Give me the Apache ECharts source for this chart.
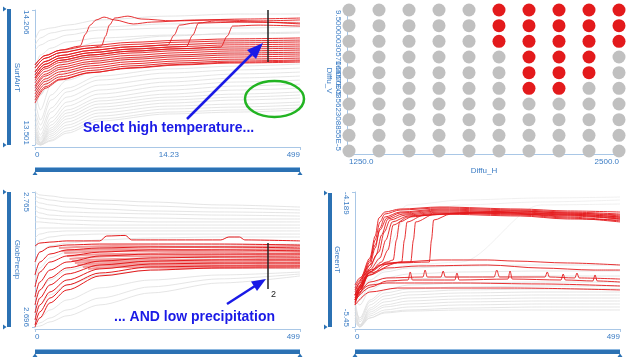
<!DOCTYPE html>
<html>
<head>
<meta charset="utf-8">
<script src="https://cdn.jsdelivr.net/npm/echarts@6/dist/echarts.min.js"></script>
<style>
  html, body { margin: 0; padding: 0; background: #fff; }
  #main { width: 626px; height: 359px; }
</style>
</head>
<body>
<div id="main"></div>
<script>
// ---- SurfAirT (top left) ----
const surfRange = [13.501, 14.206];
const surfTickValues = [0, 252, 499];
const surfTickLabels = ['0', '14.23', '499'];
const surfGrayX = [0, 10, 30, 60, 120, 250, 380, 499];
const surfGray = [
  [14.049, 14.101, 14.112, 14.127, 14.154, 14.174, 14.185, 14.185],
  [14.023, 14.060, 14.086, 14.101, 14.117, 14.133, 14.143, 14.143],
  [13.997, 14.023, 14.049, 14.075, 14.101, 14.112, 14.112, 14.117],
  [13.893, 13.971, 14.007, 14.039, 14.060, 14.075, 14.080, 14.086],
  [13.945, 13.893, 13.955, 13.997, 14.039, 14.070, 14.086, 14.091],
  [13.840, 13.762, 13.866, 13.934, 13.986, 14.023, 14.039, 14.044],
  [13.736, 13.814, 13.893, 13.945, 13.971, 13.997, 14.007, 14.013],
  [13.788, 13.684, 13.814, 13.882, 13.934, 13.966, 13.986, 13.997],
  [13.684, 13.762, 13.840, 13.903, 13.945, 13.966, 13.976, 13.981],
  [13.736, 13.631, 13.762, 13.840, 13.893, 13.924, 13.945, 13.955],
  [13.684, 13.605, 13.736, 13.798, 13.861, 13.898, 13.913, 13.924],
  [13.657, 13.579, 13.694, 13.778, 13.840, 13.877, 13.893, 13.903],
  [13.631, 13.553, 13.673, 13.751, 13.814, 13.851, 13.872, 13.882],
  [13.605, 13.537, 13.642, 13.725, 13.788, 13.830, 13.851, 13.861],
  [13.590, 13.527, 13.621, 13.704, 13.767, 13.809, 13.830, 13.840],
  [13.579, 13.516, 13.605, 13.684, 13.746, 13.788, 13.809, 13.819],
  [13.569, 13.511, 13.590, 13.668, 13.731, 13.767, 13.788, 13.798],
  [13.558, 13.511, 13.579, 13.652, 13.715, 13.751, 13.767, 13.778],
  [13.548, 13.506, 13.569, 13.637, 13.699, 13.736, 13.751, 13.762],
  [13.537, 13.506, 13.558, 13.621, 13.684, 13.720, 13.736, 13.746],
  [13.527, 13.501, 13.548, 13.605, 13.668, 13.704, 13.715, 13.725],
  [13.522, 13.501, 13.537, 13.590, 13.652, 13.689, 13.699, 13.710],
  [13.516, 13.501, 13.527, 13.574, 13.637, 13.673, 13.684, 13.694],
  [13.511, 13.501, 13.522, 13.563, 13.626, 13.663, 13.673, 13.684]
];
const surfRedX = [0, 19, 47, 104, 179, 273, 367, 499];
const surfRed = [
  [13.919, 13.968, 13.996, 14.020, 14.037, 14.048, 14.055, 14.060],
  [13.903, 13.954, 13.983, 14.008, 14.026, 14.038, 14.045, 14.049],
  [13.882, 13.937, 13.968, 13.995, 14.014, 14.026, 14.034, 14.039],
  [13.866, 13.923, 13.955, 13.983, 14.002, 14.015, 14.024, 14.028],
  [13.851, 13.909, 13.943, 13.971, 13.991, 14.004, 14.013, 14.018],
  [13.840, 13.899, 13.932, 13.960, 13.981, 13.994, 14.002, 14.007],
  [13.825, 13.885, 13.919, 13.949, 13.969, 13.983, 13.992, 13.997],
  [13.809, 13.871, 13.907, 13.937, 13.958, 13.972, 13.981, 13.986],
  [13.798, 13.861, 13.896, 13.926, 13.948, 13.962, 13.971, 13.976],
  [13.783, 13.846, 13.883, 13.914, 13.936, 13.951, 13.960, 13.966],
  [13.767, 13.833, 13.870, 13.902, 13.925, 13.940, 13.949, 13.955],
  [13.751, 13.819, 13.857, 13.890, 13.914, 13.930, 13.939, 13.945],
  [13.736, 13.805, 13.845, 13.879, 13.902, 13.919, 13.929, 13.934],
  [13.720, 13.797, 13.841, 13.878, 13.904, 13.922, 13.933, 13.940]
];
// red runs that jump up to the warm group: [x, value] pairs
const surfRedJump = [
  [[0, 13.919], [19, 13.968], [47, 13.996], [85, 14.018], [95, 14.080], [104, 14.127], [115, 14.154], [130, 14.169], [150, 14.154], [185, 14.133], [220, 14.143], [300, 14.154], [400, 14.159], [499, 14.164]],
  [[0, 13.903], [19, 13.954], [47, 13.983], [104, 14.008], [125, 14.018], [133, 14.070], [140, 14.127], [150, 14.164], [175, 14.174], [200, 14.159], [260, 14.149], [350, 14.154], [420, 14.149], [499, 14.154]],
  [[0, 13.882], [19, 13.937], [47, 13.968], [104, 13.995], [179, 14.014], [250, 14.023], [262, 14.075], [272, 14.127], [300, 14.138], [400, 14.143], [499, 14.138]],
  [[0, 13.866], [19, 13.923], [47, 13.955], [104, 13.983], [179, 14.002], [285, 14.015], [297, 14.075], [308, 14.138], [340, 14.149], [420, 14.143], [499, 14.133]],
  [[0, 13.851], [19, 13.909], [47, 13.943], [104, 13.971], [179, 13.991], [273, 14.004], [350, 14.013], [362, 14.070], [372, 14.122], [420, 14.127], [499, 14.122]]
];

// ---- Diffu_H x Diffu_V (top right) ----
const diffuH = [1250, 1388.9, 1527.8, 1666.7, 1805.6, 1944.4, 2083.3, 2222.2, 2361.1, 2500];
const diffuV = [1.0e-5, 1.944e-5, 2.889e-5, 3.833e-5, 4.778e-5, 5.722e-5, 6.667e-5, 7.611e-5, 8.556e-5, 9.5e-5];
const diffuHLabels = ['1250.0', '2500.0'];
const diffuVLabels = ['1.0000003562308855E-5', '9.500000305706657E-5'];
// selected columns per row, from the top row down
const hotCols = [[5, 9], [5, 9], [5, 9], [6, 8], [6, 8], [6, 7]];

// ---- GlobPrecip (bottom left) ----
const globRange = [2.696, 2.765];
const globTickLabels = ['0', '499'];
const globX = [0, 9, 28, 60, 122, 217, 348, 499];
const globGray = [
  [2.7650, 2.7635, 2.7630, 2.7619, 2.7609, 2.7599, 2.7584, 2.7573],
  [2.7630, 2.7619, 2.7609, 2.7599, 2.7589, 2.7578, 2.7568, 2.7558],
  [2.7609, 2.7594, 2.7584, 2.7573, 2.7563, 2.7553, 2.7548, 2.7543],
  [2.7584, 2.7568, 2.7558, 2.7548, 2.7543, 2.7538, 2.7532, 2.7527],
  [2.7558, 2.7543, 2.7532, 2.7527, 2.7522, 2.7517, 2.7512, 2.7512],
  [2.7532, 2.7517, 2.7512, 2.7507, 2.7502, 2.7497, 2.7497, 2.7497],
  [2.7497, 2.7497, 2.7492, 2.7486, 2.7481, 2.7481, 2.7481, 2.7481],
  [2.7456, 2.7466, 2.7466, 2.7466, 2.7466, 2.7466, 2.7466, 2.7466],
  [2.7415, 2.7435, 2.7446, 2.7451, 2.7451, 2.7451, 2.7451, 2.7451],
  [2.7354, 2.7405, 2.7420, 2.7430, 2.7435, 2.7435, 2.7435, 2.7435],
  [2.7277, 2.7343, 2.7374, 2.7389, 2.7405, 2.7415, 2.7420, 2.7420],
  [2.7200, 2.7262, 2.7313, 2.7343, 2.7364, 2.7374, 2.7379, 2.7384],
  [2.7098, 2.7149, 2.7200, 2.7251, 2.7287, 2.7303, 2.7313, 2.7313],
  [2.7022, 2.7073, 2.7124, 2.7175, 2.7226, 2.7251, 2.7262, 2.7262],
  [2.6986, 2.7006, 2.7047, 2.7098, 2.7160, 2.7200, 2.7226, 2.7241],
  [2.6965, 2.6981, 2.7006, 2.7047, 2.7108, 2.7165, 2.7206, 2.7231],
  [2.6960, 2.6965, 2.6986, 2.7017, 2.7073, 2.7134, 2.7185, 2.7221]
];
const globRed = [
  [2.7292, 2.7343, 2.7369, 2.7379, 2.7384, 2.7384, 2.7384, 2.7379],
  [2.7226, 2.7292, 2.7333, 2.7354, 2.7364, 2.7369, 2.7369, 2.7364],
  [2.7165, 2.7241, 2.7292, 2.7323, 2.7343, 2.7354, 2.7354, 2.7349],
  [2.7113, 2.7190, 2.7251, 2.7292, 2.7323, 2.7333, 2.7333, 2.7333],
  [2.7073, 2.7149, 2.7211, 2.7262, 2.7297, 2.7313, 2.7318, 2.7318],
  [2.7032, 2.7108, 2.7175, 2.7231, 2.7277, 2.7297, 2.7303, 2.7303],
  [2.6996, 2.7073, 2.7139, 2.7200, 2.7257, 2.7282, 2.7287, 2.7287],
  [2.6970, 2.7037, 2.7108, 2.7175, 2.7236, 2.7267, 2.7272, 2.7272],
  [2.6960, 2.7006, 2.7083, 2.7149, 2.7221, 2.7251, 2.7262, 2.7262]
];
const globRedTop = [[0, 2.7374], [9, 2.7389], [28, 2.7394], [60, 2.7400], [122, 2.7400], [135, 2.7425], [170, 2.7428], [182, 2.7405], [217, 2.7405], [350, 2.7405], [365, 2.7420], [385, 2.7420], [395, 2.7405], [499, 2.7400]];
const globPink = [
  [[45, 2.7364], [150, 2.7374], [300, 2.7369], [499, 2.7374]],
  [[50, 2.7349], [150, 2.7359], [300, 2.7354], [499, 2.7359]],
  [[55, 2.7338], [150, 2.7349], [300, 2.7343], [499, 2.7349]],
  [[60, 2.7323], [150, 2.7333], [300, 2.7328], [499, 2.7338]],
  [[65, 2.7308], [150, 2.7323], [300, 2.7318], [499, 2.7328]],
  [[70, 2.7297], [150, 2.7308], [300, 2.7303], [499, 2.7313]],
  [[75, 2.7287], [150, 2.7297], [300, 2.7292], [499, 2.7303]],
  [[80, 2.7277], [150, 2.7287], [300, 2.7282], [499, 2.7292]],
  [[90, 2.7267], [150, 2.7277], [300, 2.7272], [499, 2.7282]],
  [[100, 2.7257], [150, 2.7267], [300, 2.7262], [499, 2.7272]]
];

// ---- GreenT (bottom right) ----
const greenRange = [-5.45, -4.189];
const greenX = [0, 9, 28, 56, 100, 200, 350, 499];
const greenGray = [
  [-5.291, -5.366, -5.198, -5.104, -5.058, -5.039, -5.030, -5.030],
  [-5.244, -5.385, -5.216, -5.132, -5.095, -5.076, -5.067, -5.067],
  [-5.198, -5.403, -5.244, -5.160, -5.123, -5.104, -5.095, -5.095],
  [-5.273, -5.431, -5.273, -5.188, -5.151, -5.132, -5.123, -5.123],
  [-5.310, -5.441, -5.291, -5.216, -5.179, -5.160, -5.151, -5.151],
  [-5.338, -5.450, -5.310, -5.244, -5.207, -5.188, -5.179, -5.179],
  [-5.366, -5.450, -5.329, -5.263, -5.235, -5.216, -5.207, -5.207],
  [-5.385, -5.450, -5.347, -5.291, -5.263, -5.244, -5.235, -5.235],
  [-5.403, -5.450, -5.366, -5.310, -5.291, -5.273, -5.263, -5.263],
  [-5.338, -5.431, -5.366, -5.319, -5.301, -5.291, -5.291, -5.291],
  [-5.198, -5.244, -5.104, -5.039, -5.002, -4.983, -4.974, -4.974],
  [-5.151, -5.198, -5.058, -4.992, -4.955, -4.936, -4.927, -4.927],
  [-5.104, -5.151, -5.011, -4.936, -4.899, -4.880, -4.871, -4.871]
];
// faint runs that drift up towards the warm plateau
const greenGrayHigh = [
  [-5.198, -5.151, -4.918, -4.544, -4.310, -4.264, -4.245, -4.236],
  [-5.244, -5.179, -4.964, -4.731, -4.404, -4.310, -4.282, -4.264],
  [-5.151, -5.104, -5.011, -4.918, -4.871, -4.843, -4.310, -4.301]
];
const greenRed = [
  [[0, -5.151], [9, -5.058], [28, -4.843], [38, -4.637], [47, -4.469], [56, -4.395], [85, -4.357], [160, -4.338], [311, -4.357], [400, -4.376], [499, -4.395]],
  [[0, -5.198], [9, -5.086], [28, -4.871], [38, -4.712], [47, -4.525], [56, -4.423], [85, -4.376], [160, -4.348], [311, -4.366], [400, -4.385], [499, -4.413]],
  [[0, -5.123], [9, -5.039], [28, -4.824], [38, -4.684], [47, -4.544], [60, -4.432], [85, -4.385], [160, -4.357], [311, -4.376], [400, -4.395], [499, -4.423]],
  [[0, -5.244], [9, -5.104], [28, -4.899], [40, -4.777], [50, -4.591], [62, -4.441], [90, -4.395], [160, -4.366], [311, -4.385], [400, -4.404], [499, -4.441]],
  [[0, -5.058], [9, -4.992], [28, -4.871], [45, -4.749], [55, -4.563], [66, -4.451], [95, -4.404], [160, -4.376], [311, -4.395], [400, -4.423], [499, -4.460]],
  [[0, -5.179], [9, -5.104], [28, -4.918], [47, -4.806], [58, -4.637], [70, -4.469], [100, -4.413], [160, -4.385], [311, -4.404], [400, -4.432], [499, -4.469]],
  [[0, -5.226], [9, -5.123], [28, -4.936], [50, -4.843], [62, -4.731], [72, -4.497], [100, -4.423], [160, -4.395], [311, -4.413], [400, -4.441], [499, -4.451]],
  [[0, -5.151], [9, -5.076], [28, -4.936], [60, -4.843], [72, -4.824], [78, -4.637], [84, -4.469], [110, -4.413], [200, -4.385], [400, -4.404], [499, -4.432]],
  [[0, -5.198], [28, -4.964], [60, -4.862], [88, -4.843], [93, -4.637], [98, -4.469], [130, -4.404], [250, -4.376], [400, -4.413], [499, -4.441]],
  [[0, -5.104], [28, -4.918], [60, -4.852], [105, -4.843], [110, -4.637], [114, -4.469], [150, -4.395], [250, -4.376], [400, -4.395], [499, -4.423]],
  [[0, -5.160], [28, -4.946], [80, -4.852], [140, -4.843], [144, -4.637], [148, -4.451], [180, -4.395], [300, -4.366], [400, -4.385], [499, -4.404]],
  [[0, -5.086], [9, -5.011], [28, -4.806], [38, -4.600], [45, -4.432], [56, -4.376], [85, -4.348], [160, -4.329], [311, -4.348], [400, -4.366], [499, -4.376]],
  [[0, -5.198], [9, -5.104], [28, -4.936], [47, -4.871], [85, -4.843], [160, -4.824], [250, -4.824], [300, -4.834], [400, -4.852], [499, -4.871]],
  [[0, -5.151], [28, -4.964], [60, -4.899], [120, -4.880], [250, -4.871], [350, -4.899], [450, -4.918], [499, -4.918]],
  [[0, -5.216], [28, -5.030], [60, -4.992], [128, -4.983], [132, -4.918], [136, -4.983], [162, -4.983], [166, -4.927], [170, -4.983], [262, -4.983], [267, -4.918], [272, -4.983], [358, -4.983], [362, -4.936], [366, -4.983], [414, -4.992], [418, -4.946], [422, -4.992], [499, -5.002]],
  [[0, -5.179], [28, -5.058], [60, -5.039], [200, -5.039], [350, -5.048], [499, -5.067]],
  [[0, -5.244], [28, -5.123], [80, -5.086], [300, -5.086], [499, -5.104]],
  [[0, -5.198], [30, -5.076], [60, -5.020], [100, -5.011], [104, -4.936], [108, -5.011], [188, -5.011], [192, -4.946], [196, -5.011], [288, -5.002], [292, -4.927], [296, -5.002], [388, -5.011], [392, -4.955], [396, -5.011], [448, -5.020], [452, -4.964], [456, -5.020], [499, -5.030]]
];

const FONT = 'Liberation Sans, Arial, sans-serif';
const AXIS_LINE = '#a9c7e6';
const LABEL = '#3b7cc4';
const BAR = '#2b71b3';
const GRAY = '#dedede';
const RED = '#e41a1c';

const chart = echarts.init(document.getElementById('main'));

const series = [];
function addLines(list, xs, gi, color, width) {
  list.forEach(ys => {
    series.push({
      type: 'line',
      xAxisIndex: gi,
      yAxisIndex: gi,
      data: xs ? xs.map((x, i) => [x, ys[i]]) : ys,
      showSymbol: false,
      smooth: 0.3,
      smoothMonotone: 'x',
      silent: true,
      lineStyle: { color: color, width: width }
    });
  });
}

addLines(surfGray, surfGrayX, 0, GRAY, 0.8);
addLines(surfRed, surfRedX, 0, RED, 0.9);
addLines(surfRedJump, null, 0, RED, 0.9);

addLines(globGray, globX, 2, GRAY, 0.8);
addLines(globPink, null, 2, '#f29a9a', 2);
addLines(globRed, globX, 2, RED, 1);
addLines([globRedTop], null, 2, RED, 1);

addLines(greenGray, greenX, 3, GRAY, 0.8);
addLines(greenGrayHigh, greenX, 3, '#ececec', 0.8);
addLines(greenRed, null, 3, RED, 0.9);

// scatter grid
const grayDots = [];
const redDots = [];
for (let r = 0; r < diffuV.length; r++) {
  const v = diffuV[diffuV.length - 1 - r];
  const hot = hotCols[r];
  for (let c = 0; c < diffuH.length; c++) {
    const p = [diffuH[c], v];
    if (hot && c >= hot[0] && c <= hot[1]) redDots.push(p); else grayDots.push(p);
  }
}
series.push({ type: 'scatter', xAxisIndex: 1, yAxisIndex: 1, data: grayDots, symbolSize: 13, silent: true, itemStyle: { color: '#c0c0c0', opacity: 1 } });
series.push({ type: 'scatter', xAxisIndex: 1, yAxisIndex: 1, data: redDots, symbolSize: 13, silent: true, itemStyle: { color: '#e31a1c', opacity: 1 } });

function valueY(gi, range, labels, name, offset) {
  return {
    type: 'value', gridIndex: gi, position: 'left', min: range[0], max: range[1], offset: offset,
    name: name, nameLocation: 'middle', nameRotate: -90, nameGap: 12,
    nameTextStyle: { color: LABEL, fontSize: 8, fontFamily: FONT },
    axisLine: { show: true, lineStyle: { color: AXIS_LINE } },
    axisTick: { show: true, length: 3, customValues: range, lineStyle: { color: AXIS_LINE } },
    splitLine: { show: false },
    axisLabel: {
      customValues: range, rotate: -90, margin: 3, color: LABEL, fontSize: 8, fontFamily: FONT,
      showMinLabel: true, showMaxLabel: true, hideOverlap: false,
      alignMinLabel: 'right', alignMaxLabel: 'left',
      formatter: v => (v === range[0] ? labels[0] : labels[1])
    }
  };
}
function valueX(gi, range, values, labels, offset) {
  return {
    type: 'value', gridIndex: gi, min: range[0], max: range[1], offset: offset,
    axisLine: { show: true, lineStyle: { color: AXIS_LINE } },
    axisTick: { show: true, length: 3, customValues: range, lineStyle: { color: AXIS_LINE } },
    splitLine: { show: false },
    axisLabel: {
      customValues: values, margin: 4, color: LABEL, fontSize: 8, fontFamily: FONT,
      showMinLabel: true, showMaxLabel: true,
      alignMinLabel: 'left', alignMaxLabel: 'right',
      formatter: v => labels[values.indexOf(v)]
    }
  };
}

const xScatter = valueX(1, [diffuH[0], diffuH[9]], [diffuH[0], diffuH[9]], diffuHLabels, 3);
xScatter.name = 'Diffu_H';
xScatter.nameLocation = 'middle';
xScatter.nameGap = 12;
xScatter.nameTextStyle = { color: LABEL, fontSize: 8, fontFamily: FONT };
xScatter.axisTick.show = false;

// Diffu_V: the two long end labels overlap, so each end gets its own axis
const vRange = [diffuV[0], diffuV[9]];
const yScatter = valueY(1, vRange, diffuVLabels, 'Diffu_V', 2);
yScatter.axisTick.show = false;
yScatter.nameGap = 13;
yScatter.axisLabel.margin = 5;
yScatter.axisLabel.customValues = [vRange[1]];
yScatter.axisLabel.align = 'left';
delete yScatter.axisLabel.alignMinLabel;
delete yScatter.axisLabel.alignMaxLabel;
const yScatterMin = valueY(1, vRange, diffuVLabels, '', 2);
yScatterMin.axisLine.show = false;
yScatterMin.axisTick.show = false;
yScatterMin.axisLabel.margin = 5;
yScatterMin.axisLabel.customValues = [vRange[0]];
yScatterMin.axisLabel.align = 'right';
delete yScatterMin.axisLabel.alignMinLabel;
delete yScatterMin.axisLabel.alignMaxLabel;

function triangle(points) {
  return { type: 'polygon', shape: { points: points }, style: { fill: BAR }, silent: true };
}
function bar(x, y, w, h) {
  return { type: 'rect', shape: { x: x, y: y, width: w, height: h }, style: { fill: BAR }, silent: true };
}
function hBar(x0, x1, y) {
  return [
    bar(x0, y, x1 - x0, 5),
    { type: 'rect', shape: { x: x0, y: y, width: x1 - x0, height: 1 }, style: { fill: '#8db8e0' }, silent: true },
    triangle([[x0 - 2.5, y + 8], [x0, y + 4.5], [x0 + 2.5, y + 8]]),
    triangle([[x1 - 2.5, y + 8], [x1, y + 4.5], [x1 + 2.5, y + 8]])
  ];
}
function vBar(x, y0, y1) {
  return [
    bar(x, y0, 4, y1 - y0),
    triangle([[x - 4, y0 - 2.5], [x - 0.5, y0], [x - 4, y0 + 2.5]]),
    triangle([[x - 4, y1 - 2.5], [x - 0.5, y1], [x - 4, y1 + 2.5]])
  ];
}
function label(text, x, y, font, fill) {
  return {
    type: 'text', silent: true, z: 100,
    style: { text: text, x: x, y: y, font: font, fill: fill, verticalAlign: 'middle', textVerticalAlign: 'middle' }
  };
}
const BLUE = '#1a1ae6';

const graphic = [].concat(
  vBar(7, 9, 145), hBar(35, 300, 167),
  vBar(7, 192, 327), hBar(35, 300, 349),
  vBar(328, 193, 327), hBar(355, 620, 349),
  [
    { type: 'line', silent: true, z: 100, shape: { x1: 268, y1: 10, x2: 268, y2: 62 }, style: { stroke: '#222', lineWidth: 1.5 } },
    { type: 'line', silent: true, z: 100, shape: { x1: 268, y1: 243, x2: 268, y2: 289 }, style: { stroke: '#222', lineWidth: 1.5 } },
    label('2', 271, 295, '9px ' + FONT, '#222'),
    { type: 'ellipse', silent: true, z: 100, shape: { cx: 274.5, cy: 99, rx: 29.5, ry: 18 }, style: { fill: 'none', stroke: '#22b422', lineWidth: 2.5 } },
    { type: 'line', silent: true, z: 100, shape: { x1: 187, y1: 119, x2: 254, y2: 52 }, style: { stroke: BLUE, lineWidth: 2.5 } },
    { type: 'polygon', silent: true, z: 100, shape: { points: [[263, 43], [247, 50], [256, 59]] }, style: { fill: BLUE } },
    { type: 'line', silent: true, z: 100, shape: { x1: 227, y1: 304, x2: 255, y2: 286 }, style: { stroke: BLUE, lineWidth: 2.5 } },
    { type: 'polygon', silent: true, z: 100, shape: { points: [[266, 279], [251, 281.5], [257, 291]] }, style: { fill: BLUE } },
    label('Select high temperature...', 83, 128, 'bold 14px ' + FONT, BLUE),
    label('... AND low precipitation', 114, 317, 'bold 14px ' + FONT, BLUE)
  ]
);

chart.setOption({
  animation: false,
  backgroundColor: '#fff',
  grid: [
    { left: 35, right: 326, top: 10, bottom: 214 },
    { left: 349, right: 7, top: 10, bottom: 208 },
    { left: 35, right: 326, top: 192, bottom: 32 },
    { left: 355, right: 6, top: 192, bottom: 32 }
  ],
  xAxis: [
    valueX(0, [0, 499], surfTickValues, surfTickLabels, 2),
    xScatter,
    valueX(2, [0, 499], [0, 499], globTickLabels, 2),
    valueX(3, [0, 499], [0, 499], globTickLabels, 2)
  ],
  yAxis: [
    valueY(0, surfRange, ['13.501', '14.206'], 'SurfAirT', 2),
    yScatter,
    valueY(2, globRange, ['2.696', '2.765'], 'GlobPrecip', 2),
    valueY(3, greenRange, ['-5.45', '-4.189'], 'GreenT', 2),
    yScatterMin
  ],
  series: series,
  graphic: graphic
});
</script>
</body>
</html>
